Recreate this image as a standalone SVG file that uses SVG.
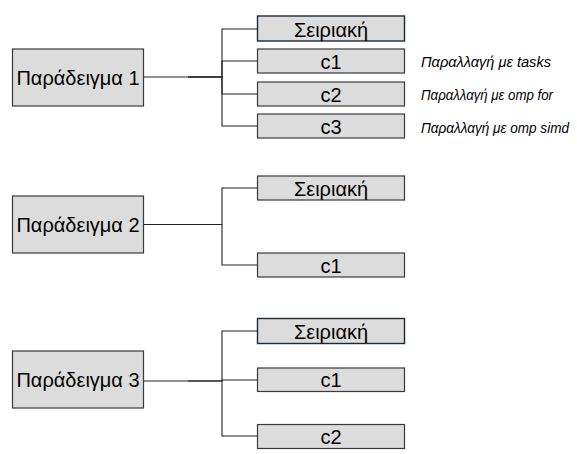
<svg xmlns="http://www.w3.org/2000/svg" width="577" height="454" viewBox="0 0 577 454">
<style>
.box{fill:#dcdcdc;stroke:#3a3a3a;stroke-width:1.2}
.ser{fill:#dcdcdc;stroke:#1c2a3a;stroke-width:1.4}
.t{font-family:"Liberation Sans",Arial,sans-serif;font-size:20px;fill:#000;text-anchor:middle}
.n{font-family:"Liberation Sans",Arial,sans-serif;font-size:14px;font-style:italic;fill:#000}
.c{fill:none;stroke:#222;stroke-width:1.1}
</style>
<rect width="577" height="454" fill="#fff"/>
<g id="connectors">
<path class="c" d="M143.5,77 H222 V29 H257"/>
<path class="c" d="M188,77 H222 V61 H257"/>
<path class="c" d="M188,77 H222 V94 H257"/>
<path class="c" d="M222,77 V126 H257"/>
<path class="c" d="M143.5,224.5 H222 V188 H257"/>
<path class="c" d="M222,224.5 V265 H257"/>
<path class="c" d="M143.5,381 H222 V331 H257"/>
<path class="c" d="M188,381 H222 V380 H257"/>
<path class="c" d="M222,381 V436 H257"/>
</g>
<g id="p1"><rect class="box" x="12.5" y="49" width="131" height="57"/><text class="t" x="78" y="84.5">Παράδειγμα 1</text></g>
<g id="p1s"><rect class="ser" x="257.5" y="16" width="147" height="25"/><text class="t" x="331" y="36.5">Σειριακή</text></g>
<g id="p1c1"><rect class="box" x="257.5" y="49" width="147" height="24"/><text class="t" x="331" y="68.5">c1</text></g>
<g id="p1c2"><rect class="box" x="257.5" y="82" width="147" height="24"/><text class="t" x="331" y="101.5">c2</text></g>
<g id="p1c3"><rect class="box" x="257.5" y="114" width="147" height="24"/><text class="t" x="331" y="133.5">c3</text></g>
<g id="n1"><text class="n" x="421" y="67" textLength="130" lengthAdjust="spacingAndGlyphs">Παραλλαγή με tasks</text></g>
<g id="n2"><text class="n" x="421" y="99.5" textLength="132" lengthAdjust="spacingAndGlyphs">Παραλλαγή με omp for</text></g>
<g id="n3"><text class="n" x="421" y="132.5" textLength="148" lengthAdjust="spacingAndGlyphs">Παραλλαγή με omp simd</text></g>
<g id="p2"><rect class="box" x="12.5" y="196" width="131" height="57"/><text class="t" x="78" y="231.5">Παράδειγμα 2</text></g>
<g id="p2s"><rect class="box" x="257.5" y="176" width="147" height="24"/><text class="t" x="331" y="195.5">Σειριακή</text></g>
<g id="p2c1"><rect class="box" x="257.5" y="253" width="147" height="24"/><text class="t" x="331" y="272.5">c1</text></g>
<g id="p3"><rect class="box" x="12.5" y="351" width="131" height="57"/><text class="t" x="78" y="386.5">Παράδειγμα 3</text></g>
<g id="p3s"><rect class="ser" x="257.5" y="318.5" width="147" height="25"/><text class="t" x="331" y="338.5">Σειριακή</text></g>
<g id="p3c1"><rect class="box" x="257.5" y="368" width="147" height="23.5"/><text class="t" x="331" y="387">c1</text></g>
<g id="p3c2"><rect class="box" x="257.5" y="424.5" width="147" height="24"/><text class="t" x="331" y="443.5">c2</text></g>
</svg>
